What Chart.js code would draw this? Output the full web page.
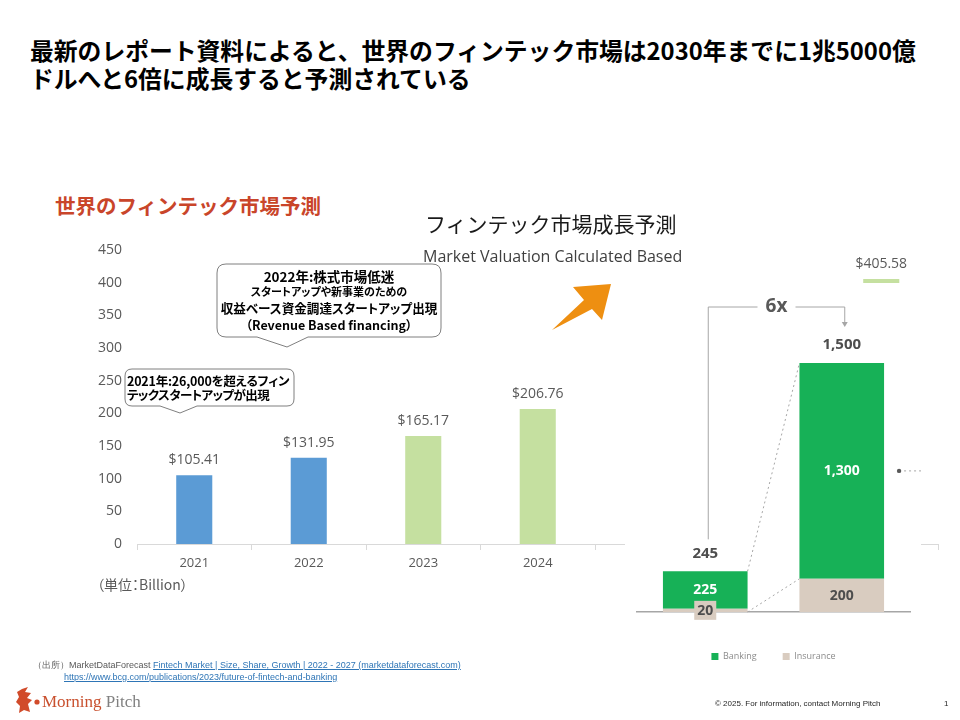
<!DOCTYPE html>
<html lang="ja">
<head>
<meta charset="utf-8">
<title>世界のフィンテック市場予測</title>
<script src="https://cdn.jsdelivr.net/npm/chart.js@4.4.1/dist/chart.umd.min.js"></script>
<style>
  html, body { margin: 0; padding: 0; background: #fff; }
  #slide { position: relative; width: 960px; height: 720px; overflow: hidden; font-family: "Noto Sans CJK JP", sans-serif; }
  .t { position: absolute; white-space: nowrap; }
  .palt { font-feature-settings: "palt"; }
  #marketChart { position: absolute; left: 80px; top: 230px; }
  #growthChart { position: absolute; left: 625px; top: 283px; background: #fff; }
  #shapes { position: absolute; left: 0; top: 0; }
  .call { font-weight: bold; color: #000; line-height: 1; }
  .note { font-family: "Liberation Sans", sans-serif; font-size: 9px; color: #595959; }
  .note a { color: #2e75b6; text-decoration: underline; }
</style>
</head>
<body>
<div id="slide">
  <div class="t" style="left:30px; top:36px; font-size:23.8px; font-weight:bold; line-height:28px; color:#000;">最新のレポート資料によると、世界のフィンテック市場は2030年までに1兆5000億<br>ドルへと6倍に成長すると予測されている</div>

  <div class="t" style="left:55px; top:193px; font-size:20.5px; font-weight:bold; line-height:24px; color:#c9452a;">世界のフィンテック市場予測</div>

  <canvas id="marketChart" width="870" height="354"></canvas>
  <canvas id="growthChart" width="296" height="390"></canvas>

  <svg id="shapes" width="960" height="720">
    <path d="M226,264 H432 Q441,264 441,273 V328 Q441,337 432,337 H308 L287,347 L257,337 H226 Q217,337 217,328 V273 Q217,264 226,264 Z" fill="#fff" stroke="#7f7f7f" stroke-width="1"/>
    <path d="M132,369 H287 Q294,369 294,376 V399 Q294,406 287,406 H197 L180,413 L160,406 H132 Q125,406 125,399 V376 Q125,369 132,369 Z" fill="#fff" stroke="#7f7f7f" stroke-width="1"/>
    <polygon points="552,330 584,300 573,287 611,284 602,320 592,309" fill="#ee8f11"/>
    <path d="M22,689 L28,687 L25,692 L31,693 L27,698 L32,700 L28,704 L30,712 L24,710 L19,713 L20,706 L16,702 L19,697 L17,692 Z" fill="#d14b2a"/>
    <circle cx="37" cy="702" r="2.6" fill="#d14b2a"/>
  </svg>

  <div class="t" style="left:425px; top:210px; font-size:21px; line-height:26px; color:#1a1a1a;">フィンテック市場成長予測</div>
  <div class="t" style="left:423px; top:246px; font-size:16px; line-height:20px; color:#404040; font-family:'Open Sans', sans-serif;">Market Valuation Calculated Based</div>

  <div class="t call palt" style="left:217px; width:224px; text-align:center; top:270px; font-size:13.5px;">2022年:株式市場低迷</div>
  <div class="t call palt" style="left:217px; width:224px; text-align:center; top:286px; font-size:11px;">スタートアップや新事業のための</div>
  <div class="t call palt" style="left:217px; width:224px; text-align:center; top:302px; font-size:12.6px;">収益ベース資金調達スタートアップ出現</div>
  <div class="t call palt" style="left:217px; width:224px; text-align:center; top:319px; font-size:12.5px;">（Revenue Based financing）</div>

  <div class="t call palt" style="left:127px; top:375px; font-size:12.5px; letter-spacing:-0.2px;">2021年:26,000を超えるフィン</div>
  <div class="t call palt" style="left:127px; top:389px; font-size:12.5px; letter-spacing:-0.6px;">テックスタートアップが出現</div>

  <div class="t palt" style="left:97px; top:576px; font-size:14px; line-height:16px; color:#595959;">（単位：Billion）</div>

  <div class="t note" style="left:33px; top:659px;">（出所）MarketDataForecast <a>Fintech Market | Size, Share, Growth | 2022 - 2027 (marketdataforecast.com)</a></div>
  <div class="t note" style="left:64px; top:672px;"><a>https://www.bcg.com/publications/2023/future-of-fintech-and-banking</a></div>

  <div class="t" style="left:42px; top:692px; font-family:'Liberation Serif', serif; font-size:17px; line-height:20px;"><span style="color:#c9502e;">Morning</span> <span style="color:#808080;">Pitch</span></div>
  <div class="t" style="left:715px; top:699px; font-family:'Liberation Sans', sans-serif; font-size:8px; color:#262626;">© 2025. For information, contact Morning Pitch</div>
  <div class="t" style="left:944px; top:699px; font-family:'Liberation Sans', sans-serif; font-size:8px; color:#262626;">1</div>
</div>

<script>
// left chart: global fintech market (billion USD)
const marketYears = ['2021', '2022', '2023', '2024', '2025', '2026', '2027'];
const marketValues = [105.41, 131.95, 165.17, 206.76, null, null, 405.58];
const marketColors = ['#5b9bd5', '#5b9bd5', '#c5e0a0', '#c5e0a0', '#c5e0a0', '#c5e0a0', '#c5e0a0'];
const marketMax = 450;
const marketStep = 50;

// right chart: growth to 2030 (billion USD)
const growthYears = ['2021', '2030'];
const bankingValues = [225, 1300];
const insuranceValues = [20, 200];

Chart.defaults.font.family = "'Open Sans', 'Noto Sans', sans-serif";
Chart.defaults.color = '#595959';

const valueLabels = {
  id: 'valueLabels',
  afterDatasetsDraw(chart) {
    const ctx = chart.ctx;
    const bars = chart.getDatasetMeta(0).data;
    ctx.save();
    ctx.font = "14px 'Open Sans', sans-serif";
    ctx.fillStyle = '#595959';
    ctx.textAlign = 'center';
    ctx.textBaseline = 'middle';
    bars.forEach((bar, i) => {
      const v = marketValues[i];
      if (v == null) return;
      ctx.fillText('$' + v.toFixed(2), bar.x, bar.y - 15);
    });
    ctx.restore();
  }
};

new Chart(document.getElementById('marketChart'), {
  type: 'bar',
  data: {
    labels: marketYears,
    datasets: [{
      data: marketValues,
      backgroundColor: marketColors,
      borderWidth: 0,
      barPercentage: 0.315,
      categoryPercentage: 1
    }]
  },
  options: {
    responsive: false,
    animation: false,
    layout: { padding: { top: 20, right: 11.5, left: 0, bottom: 0 } },
    plugins: { legend: { display: false }, tooltip: { enabled: false } },
    scales: {
      y: {
        min: 0,
        max: marketMax,
        ticks: { stepSize: marketStep, padding: 7, font: { size: 14 }, color: '#595959' },
        grid: { display: false },
        border: { display: false },
        afterFit(scale) { scale.width = 57; }
      },
      x: {
        grid: { display: true, drawOnChartArea: false, tickLength: 6, color: '#d9d9d9' },
        border: { display: true, color: '#d9d9d9' },
        ticks: { padding: 5, font: { size: 13 }, color: '#595959' },
        afterFit(scale) { scale.height = 40; }
      }
    }
  },
  plugins: [valueLabels]
});

const growthLabels = {
  id: 'growthLabels',
  afterDatasetsDraw(chart) {
    const ctx = chart.ctx;
    const ins = chart.getDatasetMeta(0).data;
    const bank = chart.getDatasetMeta(1).data;
    ctx.save();
    ctx.textAlign = 'center';
    ctx.textBaseline = 'middle';

    // dotted connectors between the two stacks
    ctx.strokeStyle = '#a6a6a6';
    ctx.lineWidth = 1;
    ctx.setLineDash([2, 3]);
    const r0 = bank[0].x + bank[0].width / 2;
    const l1 = bank[1].x - bank[1].width / 2;
    ctx.beginPath();
    ctx.moveTo(r0, bank[0].y); ctx.lineTo(l1, bank[1].y);
    ctx.moveTo(r0, ins[0].base); ctx.lineTo(l1, ins[1].y);
    const dx = bank[1].x + bank[1].width / 2 + 15;
    const dy = (bank[1].y + bank[1].base) / 2;
    ctx.moveTo(dx, dy); ctx.lineTo(dx + 24, dy);
    ctx.stroke();
    ctx.setLineDash([]);
    ctx.fillStyle = '#595959';
    ctx.beginPath(); ctx.arc(dx, dy, 2.2, 0, Math.PI * 2); ctx.fill();

    // segment values
    ctx.font = "bold 14px 'Open Sans', sans-serif";
    bank.forEach((b, i) => {
      ctx.fillStyle = '#ffffff';
      ctx.fillText(bankingValues[i].toLocaleString('en-US'), b.x, (b.y + b.base) / 2);
    });
    ins.forEach((b, i) => {
      const txt = insuranceValues[i].toLocaleString('en-US');
      const cy = (b.y + b.base) / 2;
      if (b.base - b.y < 20) {
        const w = ctx.measureText(txt).width + 6;
        ctx.fillStyle = '#d9ccc0';
        ctx.fillRect(b.x - w / 2, cy - 9.5, w, 19);
      }
      ctx.fillStyle = '#4d4d4d';
      ctx.fillText(txt, b.x, cy + 1);
    });

    // stack totals
    const totals = bankingValues.map((v, i) => v + insuranceValues[i]);
    ctx.font = "bold 15px 'Open Sans', sans-serif";
    ctx.fillStyle = '#4d4d4d';
    bank.forEach((b, i) => {
      ctx.fillText(totals[i].toLocaleString('en-US'), b.x, b.y - 18);
    });

    // growth bracket
    const x1 = bank[0].x + 3, x2 = bank[1].x + 3;
    const yTop = bank[1].y - 56;
    const mid = (x1 + x2) / 2;
    ctx.strokeStyle = '#a6a6a6';
    ctx.beginPath();
    ctx.moveTo(x1, bank[0].y - 32); ctx.lineTo(x1, yTop); ctx.lineTo(mid - 19, yTop);
    ctx.moveTo(mid + 19, yTop); ctx.lineTo(x2, yTop); ctx.lineTo(x2, bank[1].y - 38);
    ctx.stroke();
    ctx.fillStyle = '#a6a6a6';
    ctx.beginPath();
    ctx.moveTo(x2 - 3, bank[1].y - 41); ctx.lineTo(x2 + 3, bank[1].y - 41); ctx.lineTo(x2, bank[1].y - 36);
    ctx.fill();
    ctx.font = "bold 19px 'Open Sans', sans-serif";
    ctx.fillStyle = '#595959';
    ctx.fillText(Math.round(totals[1] / totals[0]) + 'x', mid, yTop);
    ctx.restore();
  }
};

new Chart(document.getElementById('growthChart'), {
  type: 'bar',
  data: {
    labels: growthYears,
    datasets: [
      { label: 'Insurance', data: insuranceValues, backgroundColor: '#d9ccc0', borderWidth: 0,
        barPercentage: 0.62, categoryPercentage: 1 },
      { label: 'Banking', data: bankingValues, backgroundColor: '#17b157', borderWidth: 0,
        barPercentage: 0.62, categoryPercentage: 1 }
    ]
  },
  options: {
    responsive: false,
    animation: false,
    layout: { padding: { top: 80, right: 11, left: 12, bottom: 2 } },
    plugins: {
      tooltip: { enabled: false },
      legend: {
        position: 'bottom',
        reverse: true,
        labels: { boxWidth: 7, boxHeight: 7, padding: 26, color: '#8c8c8c', font: { size: 9 } }
      }
    },
    scales: {
      y: { stacked: true, min: 0, max: 1500, display: false },
      x: {
        stacked: true,
        grid: { display: false },
        border: { display: true, color: '#a6a6a6', width: 1.5 },
        ticks: { padding: 14, color: '#7f7f7f', font: { size: 11.5 } },
        afterFit(scale) { scale.height = 14; }
      }
    }
  },
  plugins: [growthLabels]
});
</script>
</body>
</html>
